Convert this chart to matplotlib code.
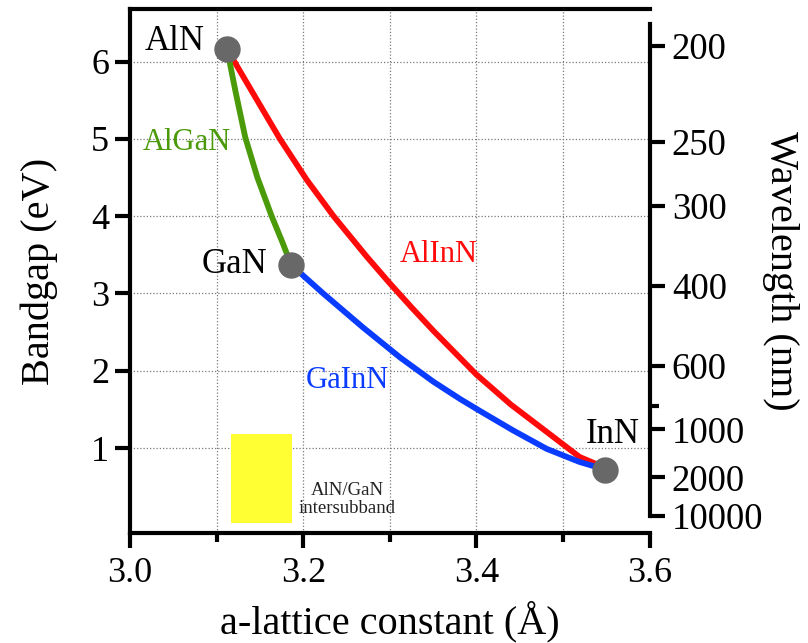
import matplotlib.pyplot as plt
import matplotlib.patches as patches

# end members: a-lattice constant (A) and bandgap (eV)
binary_names = ['AlN', 'GaN', 'InN']
binary_a = [3.112, 3.186, 3.549]
binary_eg = [6.16, 3.37, 0.72]

# ternary curves
algan_a = [3.112, 3.122, 3.133, 3.147, 3.1635, 3.176, 3.186]
algan_eg = [6.16, 5.60, 5.02, 4.50, 4.0, 3.66, 3.37]

alinn_a = [3.112, 3.173, 3.204, 3.235, 3.273, 3.300, 3.325, 3.350, 3.400, 3.440, 3.481, 3.519, 3.539, 3.549]
alinn_eg = [6.16, 5.0, 4.47, 4.0, 3.48, 3.13, 2.82, 2.52, 1.95, 1.56, 1.21, 0.885, 0.79, 0.72]

gainn_a = [3.186, 3.223, 3.269, 3.312, 3.350, 3.381, 3.404, 3.442, 3.481, 3.519, 3.549]
gainn_eg = [3.37, 3.0, 2.56, 2.17, 1.86, 1.635, 1.48, 1.23, 0.99, 0.82, 0.72]

# AlN/GaN intersubband window
isb_a = [3.117, 3.187]
isb_eg = [0.035, 1.175]

# right axis, wavelength in nm
wl_major = [200, 250, 300, 400, 600, 1000, 2000, 10000]
wl_minor = [800]


def bandgap_chart():
    plt.rcParams['font.family'] = ['Liberation Serif', 'DejaVu Serif']

    fig = plt.figure(figsize=(8.08, 6.43), dpi=100)
    ax = fig.add_axes([0.161, 0.171, 0.643, 0.815])

    ax.set_xlim(3.0, 3.6)
    ax.set_ylim(-0.1, 6.68)

    # grid at every 0.1 in x and every 1 in y
    for gx in [3.1, 3.2, 3.3, 3.4, 3.5]:
        ax.axvline(gx, color='#7a7a7a', lw=0.9, ls=(0, (1, 1.6)), zorder=0)
    for gy in [1, 2, 3, 4, 5, 6]:
        ax.axhline(gy, color='#7a7a7a', lw=0.9, ls=(0, (1, 1.6)), zorder=0)

    rect = patches.Rectangle((isb_a[0], isb_eg[0]), isb_a[1] - isb_a[0], isb_eg[1] - isb_eg[0],
                             facecolor='#ffff33', edgecolor='none', zorder=1)
    ax.add_patch(rect)
    ax.text(3.2505, 0.33, 'AlN/GaN\nintersubband', ha='center', va='center', fontsize=13.5,
            linespacing=1.05, color='#222222')

    ax.plot(alinn_a, alinn_eg, color='#ff0a0a', lw=4.2, solid_capstyle='round',
            solid_joinstyle='round', zorder=2)
    ax.plot(gainn_a, gainn_eg, color='#0a3cff', lw=4.2, solid_capstyle='round',
            solid_joinstyle='round', zorder=3)
    ax.plot(algan_a, algan_eg, color='#4a9a0a', lw=4.2, solid_capstyle='round',
            solid_joinstyle='round', zorder=3)
    ax.plot(binary_a, binary_eg, 'o', color='#686868', ms=18, zorder=4)

    # labels for the compounds
    ax.text(3.0865, 6.26, binary_names[0], ha='right', va='center', fontsize=25)
    ax.text(3.158, 3.37, binary_names[1], ha='right', va='center', fontsize=25)
    ax.text(3.588, 1.17, binary_names[2], ha='right', va='center', fontsize=25)
    ax.text(3.015, 4.95, 'AlGaN', ha='left', va='center', fontsize=22, color='#4a9a0a')
    ax.text(3.3115, 3.50, 'AlInN', ha='left', va='center', fontsize=22, color='#ff0a0a')
    ax.text(3.203, 1.87, 'GaInN', ha='left', va='center', fontsize=22, color='#0a3cff')

    ax.set_xticks([3.0, 3.2, 3.4, 3.6])
    ax.set_xticklabels(['3.0', '3.2', '3.4', '3.6'])
    ax.set_xticks([3.1, 3.3, 3.5], minor=True)
    ax.set_yticks([1, 2, 3, 4, 5, 6])
    ax.tick_params(axis='both', which='major', direction='out', length=11, width=3, labelsize=26)
    ax.tick_params(axis='x', which='minor', direction='out', length=6.5, width=3)
    ax.tick_params(axis='x', pad=6)
    ax.tick_params(axis='y', pad=4)

    ax.set_xlabel('a-lattice constant (Å)', fontsize=29, labelpad=8)
    ax.set_ylabel('Bandgap (eV)', fontsize=29, labelpad=24)

    for s in ['left', 'bottom', 'top']:
        ax.spines[s].set_linewidth(3)
    ax.spines['right'].set_visible(False)

    # wavelength axis, E = 1240 / lambda
    ax2 = ax.twinx()
    ax2.set_ylim(ax.get_ylim())
    ax2.set_yticks([1240.0 / w for w in wl_major])
    ax2.set_yticklabels([str(w) for w in wl_major])
    ax2.set_yticks([1240.0 / w for w in wl_minor], minor=True)
    ax2.tick_params(axis='y', which='major', direction='out', length=11, width=3, labelsize=26.5, pad=5)
    ax2.tick_params(axis='y', which='minor', direction='out', length=6.5, width=3)
    for s in ['left', 'bottom', 'top']:
        ax2.spines[s].set_visible(False)
    ax2.spines['right'].set_linewidth(3)
    ax2.spines['right'].set_bounds(1240.0 / wl_major[-1], 6.48)
    ax2.set_ylabel('Wavelength (nm)', fontsize=29, rotation=270, labelpad=26)

    fig.savefig('out.png', dpi=100)


if __name__ == '__main__':
    bandgap_chart()
